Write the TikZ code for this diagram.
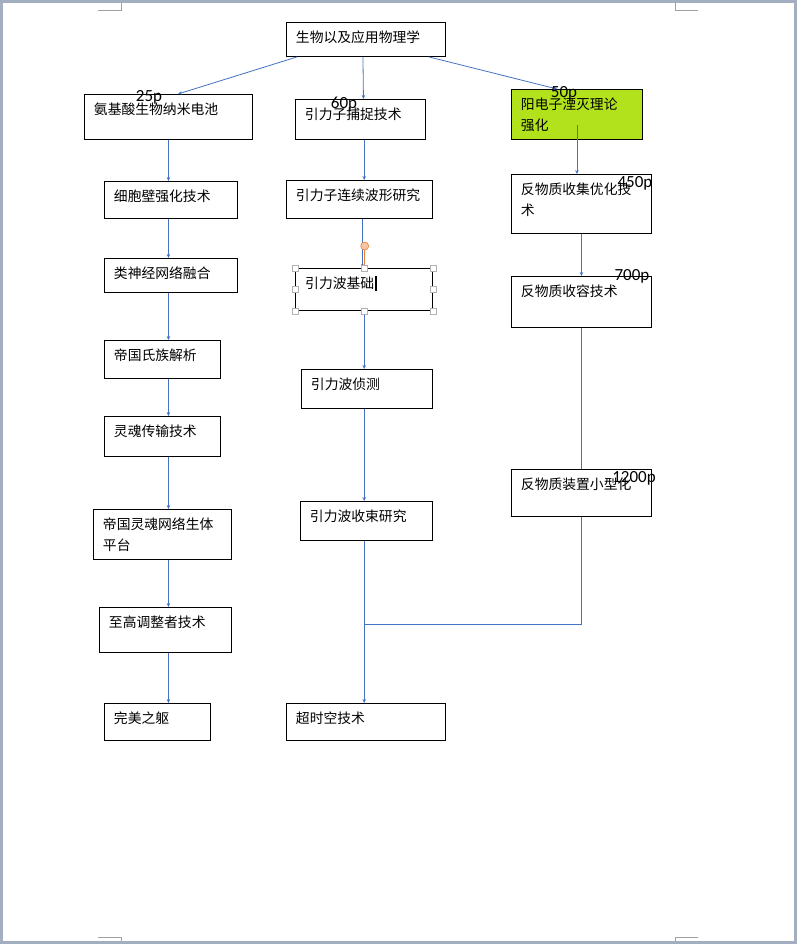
\documentclass[tikz,border=0pt]{standalone}
\usepackage{fontspec}
\setmainfont{Noto Sans CJK SC}
\newfontfamily\tagfont{Carlito}
\usepackage{tikz}
\usetikzlibrary{
	positioning,
	arrows.meta
}
\definecolor{linkblue}{RGB}{68,114,196}
\definecolor{limegreen}{RGB}{178,226,28}
\definecolor{pageframe}{RGB}{163,174,192}
\definecolor{markgray}{RGB}{160,160,160}
\definecolor{handleorange}{RGB}{237,125,49}

\tikzset{
	tbox/.style={draw,line width=0.9pt,anchor=north west,align=left,
		inner xsep=9.5pt,inner ysep=0pt,text height=20pt,
		font=\fontsize{13.8}{21}\selectfont},
	box/.code 2 args={\pgfmathsetmacro\boxw{#1-19}\pgfmathsetmacro\boxd{#2-20}%
		\edef\boxopts{text width=\boxw pt,text depth=\boxd pt}%
		\expandafter\pgfkeysalso\expandafter{\boxopts}},
	link/.style={draw=linkblue,line width=0.8pt,-{Stealth[length=4pt,width=3.5pt]}},
	plain/.style={draw=linkblue,line width=0.8pt},
	tag/.style={inner sep=0pt,font=\tagfont\fontsize{17}{17}\selectfont},
	grip/.style={draw=gray!60,fill=white,line width=0.6pt}
}

\begin{document}
\begin{tikzpicture}[x=1pt,y=-1pt]
    \useasboundingbox (0,0) rectangle (797,944);
    \fill[white] (0,0) rectangle (797,944);
    \draw[pageframe,line width=3pt] (1.5,1.5) rectangle (795.5,942.5);
    % page corner marks
    \draw[markgray,line width=0.8pt] (98,10) -- (121,10) -- (121,3);
    \draw[markgray,line width=0.8pt] (675,3) -- (675,10) -- (698,10);
    \draw[markgray,line width=0.8pt] (98,937) -- (121,937) -- (121,941);
    \draw[markgray,line width=0.8pt] (698,937) -- (675,937) -- (675,941);

    \node[tbox,box={159}{34}] (phys) at (286,22) {生物以及应用物理学};

    \node[tbox,box={168}{45}] (amino) at (84,94) {氨基酸生物纳米电池};
    \node[tbox,box={133}{37}] (cellw) at (104,181) {细胞壁强化技术};
    \node[tbox,box={133}{34}] (neural) at (104,258) {类神经网络融合};
    \node[tbox,box={116}{38}] (clan) at (104,340) {帝国氏族解析};
    \node[tbox,box={116}{40}] (soul) at (104,416) {灵魂传输技术};
    \node[tbox,box={138}{50}] (soulnet) at (93,509) {帝国灵魂网络生体\\平台};
    \node[tbox,box={132}{45}] (supreme) at (99,607) {至高调整者技术};
    \node[tbox,box={106}{37}] (perfect) at (104,703) {完美之躯};

    \node[tbox,box={130}{40}] (gcap) at (295,99) {引力子捕捉技术};
    \node[tbox,box={146}{38}] (gwave) at (286,180) {引力子连续波形研究};
    \node[tbox,box={137}{42},line width=1.4pt] (gwb) at (295,268) {引力波基础};
    \node[tbox,box={131}{39}] (gdet) at (301,369) {引力波侦测};
    \node[tbox,box={132}{39}] (gconv) at (300,501) {引力波收束研究};
    \node[tbox,box={159}{37}] (hyper) at (286,703) {超时空技术};

    \node[tbox,box={131}{50},fill=limegreen] (posi) at (511,89) {阳电子湮灭理论\\强化};
    \node[tbox,box={140}{59}] (amcol) at (511,174) {反物质收集优化技\\术};
    \node[tbox,box={140}{51}] (amcon) at (511,276) {反物质收容技术};
    \node[tbox,box={140}{47}] (amsm) at (511,469) {反物质装置小型化};

    \coordinate (merge) at (gwb.north |- 0,624);

    \draw
        ([xshift=11pt]phys.south west) edge[link] ([xshift=94pt]amino.north west)
        ([xshift=-3pt]phys.south) edge[link] ([xshift=3pt]gcap.north)
        ([xshift=-17pt]phys.south east) edge[link] ([xshift=46pt]posi.north west)

        (amino.south) edge[link] (amino.south |- cellw.north)
        (cellw.south -| amino.south) edge[link] (neural.north -| amino.south)
        (neural.south -| amino.south) edge[link] (clan.north -| amino.south)
        (clan.south -| amino.south) edge[link] (soul.north -| amino.south)
        (soul.south -| amino.south) edge[link] (soulnet.north -| amino.south)
        (soulnet.south -| amino.south) edge[link] (supreme.north -| amino.south)
        (supreme.south -| amino.south) edge[link] (perfect.north -| amino.south)

        (gcap.south -| gwb.north) edge[link] (gwave.north -| gwb.north)
        ([xshift=-1.5pt]gwave.south -| gwb.north) edge[link] ([xshift=-1.5pt]gwb.north)
        (gwb.south) edge[link] (gdet.north -| gwb.south)
        (gdet.south -| gwb.south) edge[link] (gconv.north -| gwb.south)
        (gconv.south -| gwb.south) edge[link] (hyper.north -| gwb.south)

        ([yshift=-11pt]posi.center) edge[link] (posi.center |- amcol.north)
        (amcol.south) edge[link] (amcon.north)
        (amcon.south) edge[plain] (amsm.north)
    ;
    \draw[plain] (amsm.south) |- (merge);

    % selection of the gravity-wave box
    \draw[handleorange,line width=0.9pt] ([xshift=0.5pt,yshift=18pt]gwb.north) -- ([xshift=0.5pt]gwb.north);
    \draw[handleorange,fill=handleorange!45,line width=0.6pt] ([xshift=0.5pt,yshift=22pt]gwb.north) circle (4pt);
    \foreach \a in {north west,north,north east,west,east,south west,south,south east}
        \draw[grip] ([shift={(-3pt,-3pt)}]gwb.\a) rectangle ([shift={(3pt,3pt)}]gwb.\a);
    \draw[line width=1.5pt] (376,276) -- (376,291);

    \node[tag] (p25) at (149,97) {25p};
    \node[tag] (p60) at (344,104) {60p};
    \node[tag] (p50) at (564,93) {50p};
    \node[tag] (p450) at (635,183) {450p};
    \node[tag] (p700) at (632,276) {700p};
    \node[tag] (p1200) at (634,478) {1200p};
\end{tikzpicture}
\end{document}
